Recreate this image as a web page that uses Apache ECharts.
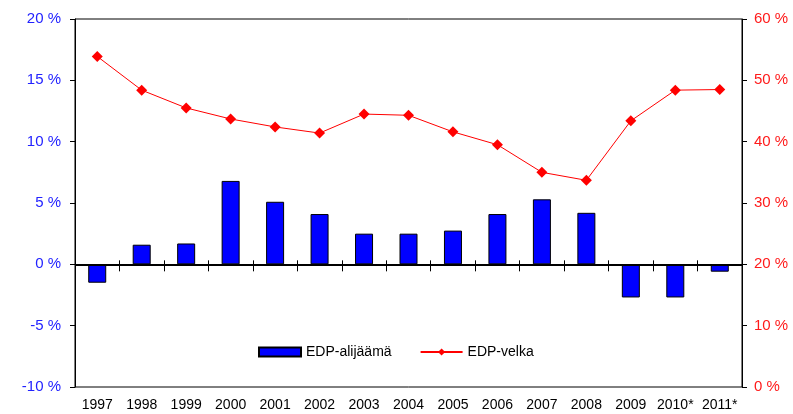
<!DOCTYPE html>
<html lang="fi">
<head>
<meta charset="utf-8">
<title>EDP</title>
<script src="https://cdn.jsdelivr.net/npm/echarts@6/dist/echarts.min.js"></script>
<style>
  html, body { margin: 0; padding: 0; background: #fff; }
  #chart { width: 793px; height: 414px; }
</style>
</head>
<body>
<div id="chart"></div>
<script>
// vuodet
var years = ['1997','1998','1999','2000','2001','2002','2003','2004','2005','2006','2007','2008','2009','2010*','2011*'];
// EDP-alijäämä, % (vasen akseli)
var deficit = [-1.5, 1.6, 1.7, 6.8, 5.1, 4.1, 2.5, 2.5, 2.75, 4.1, 5.3, 4.2, -2.7, -2.7, -0.6];
// EDP-velka, % (oikea akseli)
var debt = [53.9, 48.4, 45.5, 43.7, 42.4, 41.4, 44.5, 44.3, 41.6, 39.5, 35.0, 33.7, 43.4, 48.4, 48.5];

var font = 'Liberation Sans, Arial, sans-serif';
var chart = echarts.init(document.getElementById('chart'));

chart.setOption({
  backgroundColor: '#fff',
  animation: false,
  grid: {
    left: 75, right: 51, top: 19, bottom: 27,
    show: true, borderColor: '#000', borderWidth: 1, backgroundColor: 'transparent'
  },
  legend: {
    left: 253, top: 340,
    itemWidth: 42, itemHeight: 9, itemGap: 28,
    textStyle: { fontFamily: font, fontSize: 14, color: '#000' },
    data: [
      { name: 'EDP-alijäämä', icon: 'rect' },
      { name: 'EDP-velka' }
    ]
  },
  xAxis: [{
    type: 'category',
    data: years,
    position: 'bottom',
    axisLine: { onZero: false, show: false },
    axisTick: { show: false },
    axisLabel: { interval: 0, margin: 11, fontFamily: font, fontSize: 14, color: '#000' }
  }, {
    // nollaviiva ja väliviivat (alas)
    type: 'category',
    data: years,
    position: 'bottom',
    axisLine: { onZero: true, onZeroAxisIndex: 0, show: true, lineStyle: { color: '#000', width: 1 } },
    axisTick: { show: true, length: 7, lineStyle: { color: '#000' } },
    axisLabel: { show: false }
  }, {
    // väliviivat ylös
    type: 'category',
    data: years,
    position: 'bottom',
    axisLine: { onZero: true, onZeroAxisIndex: 0, show: false },
    axisTick: { show: true, inside: true, length: 4, lineStyle: { color: '#000' } },
    axisLabel: { show: false }
  }],
  yAxis: [{
    type: 'value',
    min: -10, max: 20, interval: 5,
    position: 'left',
    axisLine: { show: true, lineStyle: { color: '#000', width: 1 } },
    axisTick: { show: true, length: 5, lineStyle: { color: '#000' } },
    splitLine: { show: false },
    axisLabel: { formatter: '{value} %', margin: 14, fontFamily: font, fontSize: 15, color: '#2222ff' }
  }, {
    type: 'value',
    min: 0, max: 60, interval: 10,
    position: 'right',
    axisLine: { show: true, lineStyle: { color: '#000', width: 1 } },
    axisTick: { show: true, length: 5, lineStyle: { color: '#000' } },
    splitLine: { show: false },
    axisLabel: { formatter: '{value} %', margin: 12, fontFamily: font, fontSize: 15, color: '#ff1a1a' }
  }],
  series: [{
    name: 'EDP-alijäämä',
    type: 'bar',
    xAxisIndex: 0,
    yAxisIndex: 0,
    barWidth: 18,
    data: deficit,
    itemStyle: { color: '#0000ff', borderColor: '#000', borderWidth: 1 },
    markLine: {
      silent: true,
      symbol: 'none',
      label: { show: false },
      lineStyle: { color: '#000', width: 2, type: 'solid' },
      data: [{ yAxis: 0 }]
    }
  }, {
    name: 'EDP-velka',
    type: 'line',
    xAxisIndex: 0,
    yAxisIndex: 1,
    data: debt,
    symbol: 'diamond',
    symbolSize: 11,
    lineStyle: { color: '#ff0000', width: 1 },
    itemStyle: { color: '#ff0000' }
  }]
});
</script>
</body>
</html>
